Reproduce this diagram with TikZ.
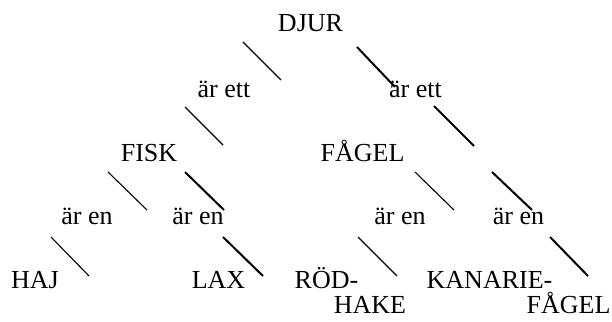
\documentclass[tikz,border=0pt]{standalone}
\usepackage{fontspec}
\setmainfont{Liberation Serif}
\begin{document}
\begin{tikzpicture}[x=1pt,y=-1pt,
  lbl/.style={inner sep=0pt,anchor=base,font=\fontsize{26}{30}\selectfont},
  thinln/.style={line width=1.1pt},
  thickln/.style={line width=2pt}]
\fill[white] (0,0) rectangle (612,321);
\useasboundingbox (0,0) rectangle (612,321);
% labels
\node[lbl] (djur) at (310.5,32) {DJUR};
\node[lbl] (arettL) at (224,97) {är ett};
\node[lbl] (arettR) at (415.5,97) {är ett};
\node[lbl] (fisk) at (149,161) {FISK};
\node[lbl] (fagel) at (362.5,161) {FÅGEL};
\node[lbl] (aren1) at (87,224) {är en};
\node[lbl] (aren2) at (198,224) {är en};
\node[lbl] (aren3) at (400,224) {är en};
\node[lbl] (aren4) at (518.5,224) {är en};
\node[lbl] (haj) at (35,288) {HAJ};
\node[lbl] (lax) at (218.5,288) {LAX};
\node[lbl] (rod) at (326.5,288) {RÖD-};
\node[lbl] (hake) at (370,313) {HAKE};
\node[lbl] (kanarie) at (489.5,288) {KANARIE-};
\node[lbl] (fagel2) at (568.5,313) {FÅGEL};
% connector end points
\coordinate (a1) at (243,42);  \coordinate (b1) at (281,80);
\coordinate (a2) at (357,47);  \coordinate (b2) at (395,87);
\coordinate (a3) at (185,107); \coordinate (b3) at (223,145);
\coordinate (a4) at (434,106); \coordinate (b4) at (474,146);
\coordinate (a5) at (108,172); \coordinate (b5) at (147,210);
\coordinate (a6) at (185,172); \coordinate (b6) at (224,210);
\coordinate (a7) at (51,237);  \coordinate (b7) at (89,276);
\coordinate (a8) at (223,237); \coordinate (b8) at (263,276);
\coordinate (a9) at (415,172); \coordinate (b9) at (454,210);
\coordinate (a10) at (492,172); \coordinate (b10) at (532,210);
\coordinate (a11) at (358,237); \coordinate (b11) at (397,276);
\coordinate (a12) at (550,237); \coordinate (b12) at (588,276);
% connectors
\draw[thinln] (a1) -- (b1);
\draw[thickln] (a2) -- (b2);
\draw[thinln] (a3) -- (b3);
\draw[thickln] (a4) -- (b4);
\draw[thinln] (a5) -- (b5);
\draw[thickln] (a6) -- (b6);
\draw[thinln] (a7) -- (b7);
\draw[thickln] (a8) -- (b8);
\draw[thinln] (a9) -- (b9);
\draw[thickln] (a10) -- (b10);
\draw[thinln] (a11) -- (b11);
\draw[thickln] (a12) -- (b12);
\end{tikzpicture}
\end{document}
